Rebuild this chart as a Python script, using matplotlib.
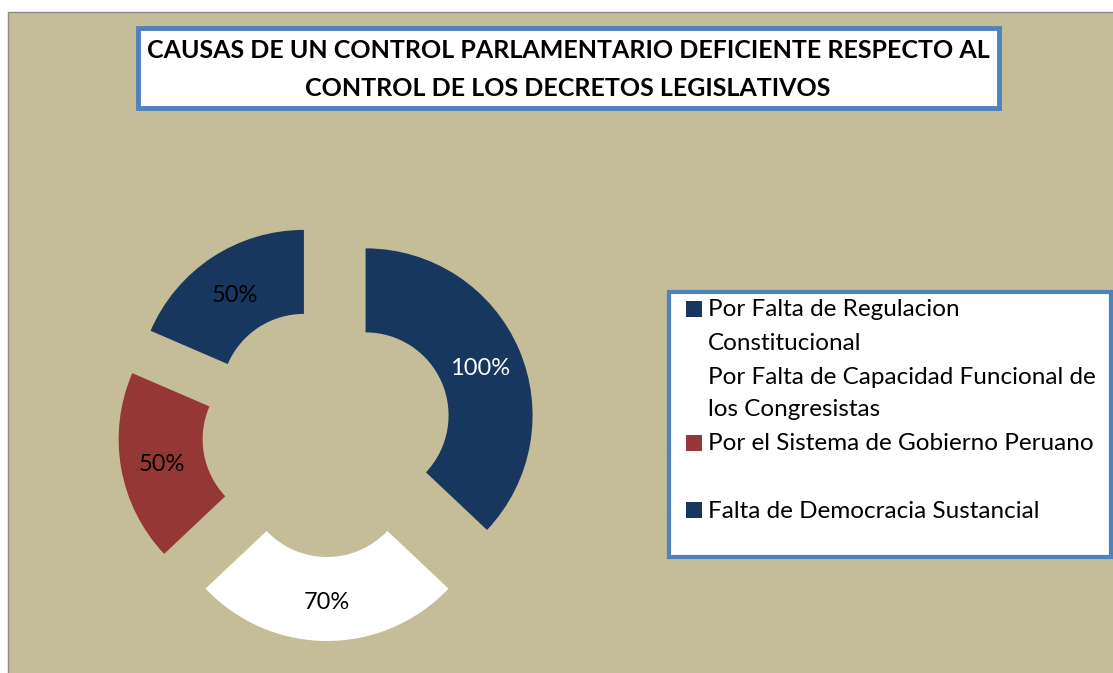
import matplotlib.pyplot as plt
from matplotlib.patches import Rectangle

# data
categorias = ['Por Falta de Regulacion\nConstitucional',
              'Por Falta de Capacidad Funcional de\nlos Congresistas',
              'Por el Sistema de Gobierno Peruano',
              'Falta de Democracia Sustancial']
valores = [100, 70, 50, 50]
colores = ['#17375E', '#FFFFFF', '#953735', '#17375E']
color_etiqueta = ['white', 'black', 'black', 'black']
titulo = 'CAUSAS DE UN CONTROL PARLAMENTARIO DEFICIENTE RESPECTO AL\nCONTROL DE LOS DECRETOS LEGISLATIVOS'

W, H = 1113, 673
fondo = '#C4BD97'
azul_borde = '#4F81BD'

plt.rcParams['font.family'] = ['Lato', 'DejaVu Sans']

fig = plt.figure(figsize=(W / 100, H / 100), dpi=100)
fig.patch.set_facecolor('white')

# background / decorations axes (pixel coords, y down)
bg = fig.add_axes([0, 0, 1, 1])
bg.set_xlim(0, W)
bg.set_ylim(H, 0)
bg.axis('off')
bg.add_patch(Rectangle((8, 12), W, H, facecolor=fondo, edgecolor='#8c8c8c', lw=1))

# title box
bg.add_patch(Rectangle((138, 28), 861, 80, facecolor='white', edgecolor=azul_borde, lw=3.5))
for j, linea in enumerate(titulo.split('\n')):
    bg.text(568, 51 + j * 37, linea, ha='center', va='center', fontsize=18,
            fontweight='bold', color='black')

# legend box
bg.add_patch(Rectangle((669, 292), 442, 265, facecolor='white', edgecolor=azul_borde, lw=3))
for i, (lab, col) in enumerate(zip(categorias, colores)):
    y0 = 309 + i * 67
    bg.add_patch(Rectangle((686, y0 - 8), 16, 16, facecolor=col, edgecolor='none'))
    for j, linea in enumerate(lab.split('\n')):
        bg.text(708, y0 + 1 + j * 33, linea, ha='left', va='center', fontsize=17.5, color='black')

# donut
ax = fig.add_axes([0, 0, 1, 1])
ax.patch.set_alpha(0)
total = sum(valores)
wedges, texts, autotexts = ax.pie(
    valores, colors=colores, startangle=90, counterclock=False,
    radius=167, center=(327, H - 432), explode=[42] * 4,
    wedgeprops=dict(width=84, linewidth=0),
    autopct=lambda p: f'{p * total / 100:.0f}%', pctdistance=0.75,
    textprops=dict(fontsize=17))
for t, c in zip(autotexts, color_etiqueta):
    t.set_color(c)
    px, py = t.get_position()
    t.set_position((px, py - 3))
ax.set_xlim(0, W)
ax.set_ylim(0, H)
ax.set_aspect('equal')
ax.axis('off')

fig.savefig('out.png', dpi=100, facecolor=fig.get_facecolor())
